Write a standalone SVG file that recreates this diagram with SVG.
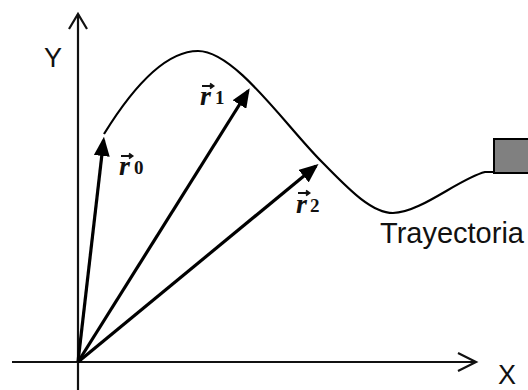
<svg xmlns="http://www.w3.org/2000/svg" width="528" height="390" viewBox="0 0 528 390">
<defs>
<style>
.axis{stroke:#111;stroke-width:2.2;fill:none}
.vec{stroke:#000;stroke-width:3.2;fill:none}
.curve{stroke:#000;stroke-width:2.2;fill:none}
.lbl{font-family:"Liberation Sans",Arial,sans-serif;fill:#111}
.r{font-family:"Liberation Serif","Times New Roman",serif;font-style:italic;font-weight:bold;font-size:28px;fill:#111}
.sub{font-family:"Liberation Serif","Times New Roman",serif;font-weight:bold;font-size:19px;fill:#111}
.ov{stroke:#111;stroke-width:1.8;fill:none}
</style>
<marker id="ah" markerWidth="6" markerHeight="5" refX="5" refY="2.5" orient="auto" markerUnits="strokeWidth">
<path d="M0,0 L6,2.5 L0,5 Z" fill="#000"/>
</marker>
</defs>
<rect width="528" height="390" fill="#fff"/>
<g id="axes">
<line class="axis" x1="78" y1="390" x2="78" y2="14"/>
<polyline class="axis" points="69,29 78,14 87,29"/>
<line class="axis" x1="12" y1="362" x2="476" y2="362"/>
<polyline class="axis" points="458,353 476,362 458,371"/>
<text class="lbl" x="44" y="67" font-size="27">Y</text>
<text class="lbl" x="498" y="384" font-size="27">X</text>
</g>
<g id="trajectory">
<path class="curve" d="M104,134 C125,100 160,51 198,51 C235,51 285,125 322,162 C345,185 370,213 393,213 C420,213 460,178 485,172 L495,172"/>
<text class="lbl" x="380" y="243" font-size="29">Trayectoria</text>
</g>
<g id="body">
<rect x="494" y="139" width="36" height="34" fill="#808080" stroke="#000" stroke-width="2"/>
</g>
<g id="vectors">
<line class="vec" x1="78" y1="362" x2="103.6" y2="140" marker-end="url(#ah)"/>
<line class="vec" x1="78" y1="362" x2="248" y2="91" marker-end="url(#ah)"/>
<line class="vec" x1="78" y1="362" x2="316" y2="166" marker-end="url(#ah)"/>
</g>
<g id="label-r0">
<text class="r" x="119" y="175">r</text>
<text class="sub" x="134" y="174">0</text>
<path class="ov" d="M121,156 H132 M129,153.5 L132.5,156 L129,158.5"/>
</g>
<g id="label-r1">
<text class="r" x="200" y="105">r</text>
<text class="sub" x="215" y="104">1</text>
<path class="ov" d="M202,86 H213 M210,83.5 L213.5,86 L210,88.5"/>
</g>
<g id="label-r2">
<text class="r" x="296" y="213">r</text>
<text class="sub" x="310" y="212">2</text>
<path class="ov" d="M298,193 H309 M306,190.5 L309.5,193 L306,195.5"/>
</g>
</svg>
